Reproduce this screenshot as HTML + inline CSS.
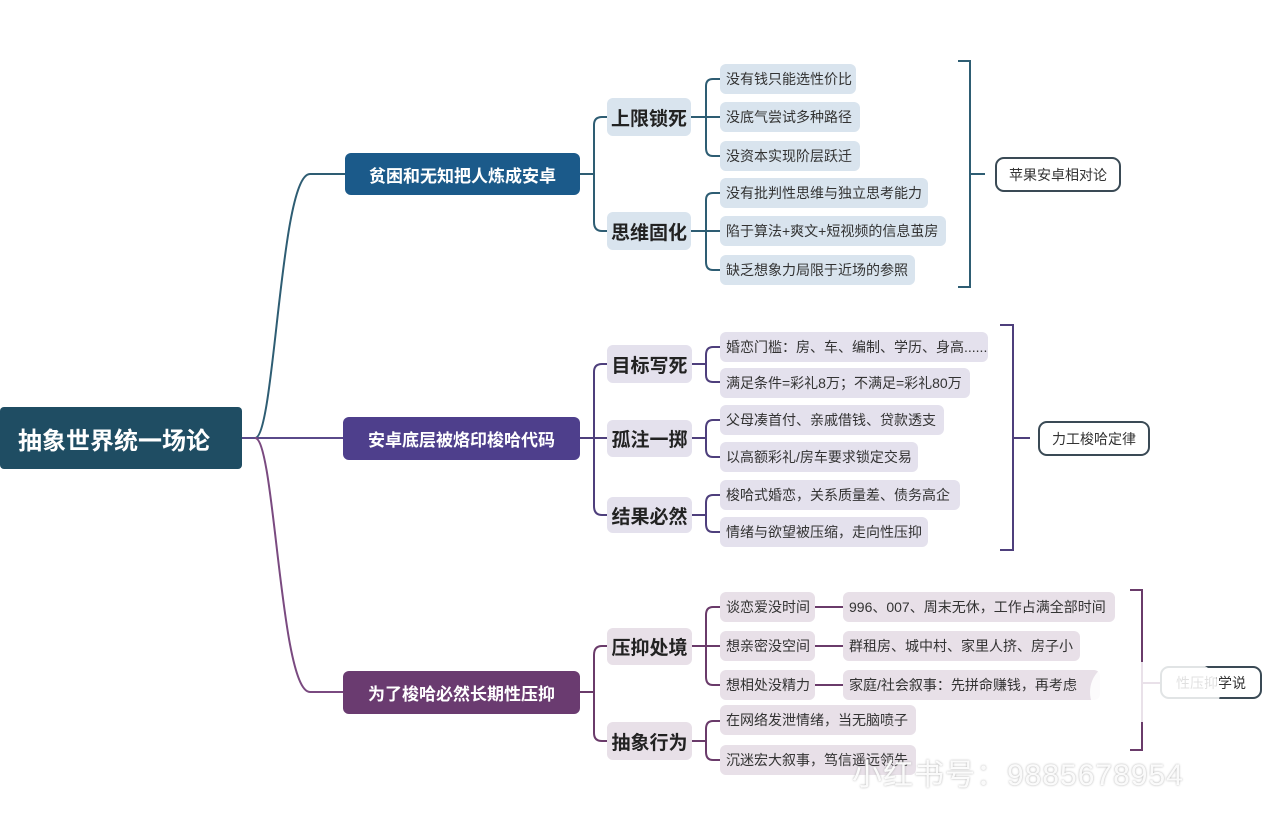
<!DOCTYPE html>
<html><head><meta charset="utf-8"><style>
body{margin:0;width:1280px;height:826px;background:#fff;position:relative;overflow:hidden;font-family:"Liberation Sans","Noto Sans CJK SC",sans-serif}
.b{position:absolute;box-sizing:border-box;display:flex;align-items:center;white-space:nowrap}
.root{background:#1f4d63;color:#fff;font-weight:bold;font-size:24px;border-radius:4px;padding-left:18px}
.m{color:#fff;font-weight:bold;font-size:17px;border-radius:6px;justify-content:center}
.l2{font-weight:bold;font-size:19px;color:#222;border-radius:6px;justify-content:center}
.lf{font-size:14px;color:#333;border-radius:6px;padding-left:6px}
.bl{background:#d9e4ee}.pu{background:#e4e1ed}.pk{background:#e8e0e8}
.lab{border:2px solid #3a4a55;border-radius:9px;font-size:14px;color:#333;justify-content:center;background:#fff}
</style></head><body>
<svg width="1280" height="826" style="position:absolute;left:0;top:0" fill="none" stroke-width="2">
<g stroke="#2e5d73">
<path d="M242 438 H255 C275 438 280 174 310 174 H345"/>
</g>
<path d="M242 438 H345" stroke="#5a4a8a"/>
<path d="M255 438 C275 438 280 692 310 692 H345" stroke="#7a4a80"/>
<g stroke="#2e5d73">
<path d="M580 174 H594 M594 125 V222 M594 125 Q594 117 602 117 H607 M594 222 Q594 231 602 231 H607"/>
<path d="M691 117 H706 M706 86 V148 M706 86 Q706 79 713 79 H720 M706 117 H720 M706 148 Q706 156 713 156 H720"/>
<path d="M691 231 H706 M706 200 V262 M706 200 Q706 193 713 193 H720 M706 231 H720 M706 262 Q706 270 713 270 H720"/>
<path d="M958 61 H970 V287 H958 M970 174 H985"/>
</g>
<g stroke="#4e3f7c">
<path d="M580 438 H594 M594 372 V506 M594 372 Q594 364 602 364 H607 M594 438 H607 M594 506 Q594 515 602 515 H607"/>
<path d="M692 364 H706 M706 355 V375 M706 355 Q706 347 713 347 H720 M706 375 Q706 382 713 382 H720"/>
<path d="M692 438 H706 M706 428 V449 M706 428 Q706 420 713 420 H720 M706 449 Q706 457 713 457 H720"/>
<path d="M692 515 H706 M706 503 V524 M706 503 Q706 495 713 495 H720 M706 524 Q706 532 713 532 H720"/>
<path d="M1000 325 H1013 V550 H1000 M1013 438 H1030"/>
</g>
<g stroke="#6a3b6a">
<path d="M580 692 H594 M594 655 V733 M594 655 Q594 646 602 646 H607 M594 733 Q594 741 602 741 H607"/>
<path d="M692 646 H706 M706 615 V677 M706 615 Q706 607 713 607 H720 M706 646 H720 M706 677 Q706 685 713 685 H720"/>
<path d="M815 607 H843 M815 646 H843 M815 685 H843"/>
<path d="M692 741 H706 M706 729 V752 M706 729 Q706 721 713 721 H720 M706 752 Q706 760 713 760 H720"/>
<path d="M1130 590 H1142 V750 H1130 M1142 683 H1160"/>
</g>
</svg>
<div class="b root" style="left:0;top:407px;width:242px;height:62px">抽象世界统一场论</div>
<div class="b m" style="left:345px;top:153px;width:235px;height:42px;background:#1b5a8a">贫困和无知把人炼成安卓</div>
<div class="b m" style="left:343px;top:417px;width:237px;height:43px;background:#4e3f8c">安卓底层被烙印梭哈代码</div>
<div class="b m" style="left:343px;top:671px;width:237px;height:43px;background:#6a3b70">为了梭哈必然长期性压抑</div>

<div class="b l2 bl" style="left:607px;top:98px;width:84px;height:38px">上限锁死</div>
<div class="b l2 bl" style="left:607px;top:212px;width:84px;height:38px">思维固化</div>
<div class="b l2 pu" style="left:607px;top:345px;width:85px;height:38px">目标写死</div>
<div class="b l2 pu" style="left:607px;top:420px;width:85px;height:37px">孤注一掷</div>
<div class="b l2 pu" style="left:607px;top:497px;width:85px;height:36px">结果必然</div>
<div class="b l2 pk" style="left:607px;top:628px;width:85px;height:37px">压抑处境</div>
<div class="b l2 pk" style="left:607px;top:722px;width:85px;height:38px">抽象行为</div>

<div class="b lf bl" style="left:720px;top:64px;width:136px;height:30px">没有钱只能选性价比</div>
<div class="b lf bl" style="left:720px;top:102px;width:140px;height:30px">没底气尝试多种路径</div>
<div class="b lf bl" style="left:720px;top:141px;width:140px;height:30px">没资本实现阶层跃迁</div>
<div class="b lf bl" style="left:720px;top:178px;width:208px;height:30px">没有批判性思维与独立思考能力</div>
<div class="b lf bl" style="left:720px;top:216px;width:226px;height:30px">陷于算法+爽文+短视频的信息茧房</div>
<div class="b lf bl" style="left:720px;top:255px;width:195px;height:30px">缺乏想象力局限于近场的参照</div>

<div class="b lf pu" style="left:720px;top:332px;width:268px;height:30px">婚恋门槛：房、车、编制、学历、身高......</div>
<div class="b lf pu" style="left:720px;top:368px;width:250px;height:30px">满足条件=彩礼8万；不满足=彩礼80万</div>
<div class="b lf pu" style="left:720px;top:405px;width:224px;height:30px">父母凑首付、亲戚借钱、贷款透支</div>
<div class="b lf pu" style="left:720px;top:442px;width:198px;height:30px">以高额彩礼/房车要求锁定交易</div>
<div class="b lf pu" style="left:720px;top:480px;width:240px;height:30px">梭哈式婚恋，关系质量差、债务高企</div>
<div class="b lf pu" style="left:720px;top:517px;width:208px;height:30px">情绪与欲望被压缩，走向性压抑</div>

<div class="b lf pk" style="left:720px;top:592px;width:95px;height:30px">谈恋爱没时间</div>
<div class="b lf pk" style="left:720px;top:631px;width:95px;height:30px">想亲密没空间</div>
<div class="b lf pk" style="left:720px;top:670px;width:95px;height:30px">想相处没精力</div>
<div class="b lf pk" style="left:843px;top:592px;width:272px;height:30px">996、007、周末无休，工作占满全部时间</div>
<div class="b lf pk" style="left:843px;top:631px;width:237px;height:30px">群租房、城中村、家里人挤、房子小</div>
<div class="b lf pk" style="left:843px;top:670px;width:257px;height:30px;overflow:hidden">家庭/社会叙事：先拼命赚钱，再考虑</div>
<div class="b lf pk" style="left:720px;top:705px;width:196px;height:30px">在网络发泄情绪，当无脑喷子</div>
<div class="b lf pk" style="left:720px;top:745px;width:196px;height:30px">沉迷宏大叙事，笃信遥远领先</div>

<div class="b lab" style="left:995px;top:157px;width:126px;height:35px">苹果安卓相对论</div>
<div class="b lab" style="left:1038px;top:421px;width:112px;height:35px">力工梭哈定律</div>
<div class="b lab" style="left:1160px;top:666px;width:102px;height:33px">性压抑学说</div>
<div style="position:absolute;left:1090px;top:662px;width:130px;height:60px;border-radius:30px;background:rgba(255,255,255,0.85)"></div>
<div style="position:absolute;left:852px;top:750px;font-size:30px;letter-spacing:1px;color:rgba(255,255,255,0.92);text-shadow:0 0 2px #aaa;white-space:nowrap">小红书号：9885678954</div>
</body></html>
